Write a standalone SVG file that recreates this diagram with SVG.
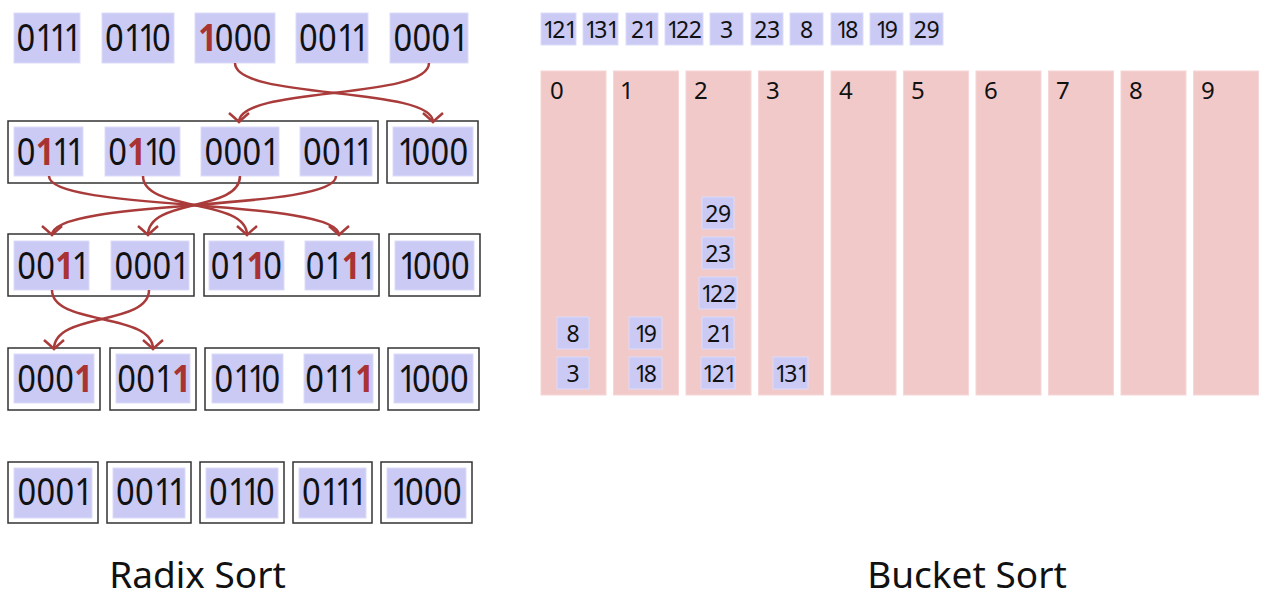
<svg xmlns="http://www.w3.org/2000/svg" width="1266" height="602" viewBox="0 0 1266 602">
<style>
.b{fill:#CACAF5;stroke:#DCDCF9;stroke-width:1}
.f{fill:none;stroke:#333;stroke-width:1.5}
.k{fill:#F2C9C9;stroke:#F6D6D6;stroke-width:1}
.d{font-family:"Noto Sans","Open Sans","DejaVu Sans",sans-serif;font-size:38px;fill:#111}
.s{font-family:"Noto Sans","Open Sans","DejaVu Sans",sans-serif;font-size:23px;fill:#111}
.l{font-family:"Noto Sans","Open Sans","DejaVu Sans",sans-serif;font-size:24px;fill:#111}
.r{fill:#A93333;font-weight:bold}
.t{font-family:"Noto Sans","Open Sans","DejaVu Sans",sans-serif;font-size:37px;fill:#111;text-anchor:middle}
.a{fill:none;stroke:#A93B3B;stroke-width:2.5;marker-end:url(#ah)}
.m{text-anchor:middle}
</style>
<defs>
<marker id="ah" markerUnits="userSpaceOnUse" orient="auto" markerWidth="24" markerHeight="26" viewBox="-12 -13 24 26" refX="0" refY="0" overflow="visible">
<path d="M-9,-10 Q-3,-3 0,0 Q-3,3 -9,10" fill="none" stroke="#A93B3B" stroke-width="2.5"/>
</marker>
</defs>

<!-- Radix sort: row 1 -->
<g id="r1n1"><rect class="b" x="14" y="13" width="66" height="50"/><text class="d" transform="translate(16.5,51) scale(0.86,1)" x="0 22.09 38.37 54.65">0111</text></g>
<g id="r1n2"><rect class="b" x="102" y="13" width="72" height="50"/><text class="d" transform="translate(105,51) scale(0.86,1)" x="0 22.09 38.37 54.65">0110</text></g>
<g id="r1n3"><rect class="b" x="195" y="13" width="80" height="50"/><text class="d" transform="translate(198.25,51) scale(0.86,1)" x="0 19.19 41.28 63.37"><tspan class="r">1</tspan>000</text></g>
<g id="r1n4"><rect class="b" x="296" y="13" width="72" height="50"/><text class="d" transform="translate(299,51) scale(0.86,1)" x="0 22.09 44.18 60.46">0011</text></g>
<g id="r1n5"><rect class="b" x="390" y="13" width="78" height="50"/><text class="d" transform="translate(393.5,51) scale(0.86,1)" x="0 22.09 44.18 66.27">0001</text></g>

<!-- row 2 -->
<g id="r2f1"><rect class="f" x="8" y="121" width="370" height="62"/></g>
<g id="r2f2"><rect class="f" x="387" y="121" width="91" height="62"/></g>
<g id="r2n1"><rect class="b" x="14" y="127" width="69" height="49"/><text class="d" transform="translate(16.75,165) scale(0.86,1)" x="0 22.09 41.28 57.56">0<tspan class="r">1</tspan>11</text></g>
<g id="r2n2"><rect class="b" x="105" y="127" width="75" height="49"/><text class="d" transform="translate(108.25,165) scale(0.86,1)" x="0 22.09 41.28 57.56">0<tspan class="r">1</tspan>10</text></g>
<g id="r2n3"><rect class="b" x="201" y="127" width="78" height="49"/><text class="d" transform="translate(204.5,165) scale(0.86,1)" x="0 22.09 44.18 66.27">0001</text></g>
<g id="r2n4"><rect class="b" x="300" y="127" width="72" height="49"/><text class="d" transform="translate(303,165) scale(0.86,1)" x="0 22.09 44.18 60.46">0011</text></g>
<g id="r2n5"><rect class="b" x="393" y="127" width="80" height="49"/><text class="d" transform="translate(397.5,165) scale(0.86,1)" x="0 16.28 38.37 60.46">1000</text></g>

<!-- row 3 -->
<g id="r3f1"><rect class="f" x="8" y="234" width="186" height="62"/></g>
<g id="r3f2"><rect class="f" x="204" y="234" width="175" height="62"/></g>
<g id="r3f3"><rect class="f" x="389" y="234" width="91" height="62"/></g>
<g id="r3n1"><rect class="b" x="14" y="241" width="75" height="49"/><text class="d" transform="translate(17.25,279) scale(0.86,1)" x="0 22.09 44.18 63.37">00<tspan class="r">1</tspan>1</text></g>
<g id="r3n2"><rect class="b" x="111" y="241" width="78" height="49"/><text class="d" transform="translate(114.5,279) scale(0.86,1)" x="0 22.09 44.18 66.27">0001</text></g>
<g id="r3n3"><rect class="b" x="209" y="241" width="75" height="49"/><text class="d" transform="translate(210.8,279) scale(0.86,1)" x="0 22.09 41.69 60.88">01<tspan class="r">1</tspan>0</text></g>
<g id="r3n4"><rect class="b" x="305" y="241" width="68" height="49"/><text class="d" transform="translate(305.8,279) scale(0.86,1)" x="0 22.09 41.69 60.88">01<tspan class="r">1</tspan>1</text></g>
<g id="r3n5"><rect class="b" x="395" y="241" width="79" height="49"/><text class="d" transform="translate(399,279) scale(0.86,1)" x="0 16.28 38.37 60.46">1000</text></g>

<!-- row 4 -->
<g id="r4f1"><rect class="f" x="8" y="348" width="92" height="62"/></g>
<g id="r4f2"><rect class="f" x="110" y="348" width="86" height="62"/></g>
<g id="r4f3"><rect class="f" x="205" y="348" width="174" height="62"/></g>
<g id="r4f4"><rect class="f" x="388" y="348" width="91" height="62"/></g>
<g id="r4n1"><rect class="b" x="14" y="354" width="80" height="49"/><text class="d" transform="translate(17.25,392) scale(0.86,1)" x="0 22.09 44.18 66.27">000<tspan class="r">1</tspan></text></g>
<g id="r4n2"><rect class="b" x="116" y="354" width="74" height="49"/><text class="d" transform="translate(117.3,392) scale(0.86,1)" x="0 22.09 44.18 63.78">001<tspan class="r">1</tspan></text></g>
<g id="r4n3"><rect class="b" x="212" y="354" width="71" height="49"/><text class="d" transform="translate(214.5,392) scale(0.86,1)" x="0 22.09 38.37 54.65">0110</text></g>
<g id="r4n4"><rect class="b" x="304" y="354" width="69" height="49"/><text class="d" transform="translate(305.3,392) scale(0.86,1)" x="0 22.09 38.37 57.97">011<tspan class="r">1</tspan></text></g>
<g id="r4n5"><rect class="b" x="394" y="354" width="79" height="49"/><text class="d" transform="translate(398,392) scale(0.86,1)" x="0 16.28 38.37 60.46">1000</text></g>

<!-- row 5 -->
<g id="r5n1"><rect class="f" x="8" y="462" width="90" height="61"/><rect class="b" x="14" y="468" width="78" height="50"/><text class="d" transform="translate(17.5,505) scale(0.86,1)" x="0 22.09 44.18 66.27">0001</text></g>
<g id="r5n2"><rect class="f" x="107" y="462" width="84" height="61"/><rect class="b" x="113" y="468" width="72" height="50"/><text class="d" transform="translate(116,505) scale(0.86,1)" x="0 22.09 44.18 60.46">0011</text></g>
<g id="r5n3"><rect class="f" x="200" y="462" width="84" height="61"/><rect class="b" x="206" y="468" width="72" height="50"/><text class="d" transform="translate(209,505) scale(0.86,1)" x="0 22.09 38.37 54.65">0110</text></g>
<g id="r5n4"><rect class="f" x="293" y="462" width="79" height="61"/><rect class="b" x="299" y="468" width="67" height="50"/><text class="d" transform="translate(302,505) scale(0.86,1)" x="0 22.09 38.37 54.65">0111</text></g>
<g id="r5n5"><rect class="f" x="381" y="462" width="91" height="61"/><rect class="b" x="387" y="468" width="79" height="50"/><text class="d" transform="translate(391,505) scale(0.86,1)" x="0 16.28 38.37 60.46">1000</text></g>

<g id="radix-title"><text class="t" x="197.5" y="588">Radix Sort</text></g>

<!-- Bucket sort: input row -->
<g id="in1"><rect class="b" x="541" y="13" width="35" height="32"/><text class="s" x="542.85 552.15 564.85" y="38">121</text></g>
<g id="in2"><rect class="b" x="583" y="13" width="35" height="32"/><text class="s" x="584.85 594.15 606.85" y="38">131</text></g>
<g id="in3"><rect class="b" x="626" y="13" width="32" height="32"/><text class="s" x="631 643.7" y="38">21</text></g>
<g id="in4"><rect class="b" x="665" y="13" width="38" height="32"/><text class="s" x="666.65 675.95 688.65" y="38">122</text></g>
<g id="in5"><rect class="b" x="710" y="13" width="33" height="32"/><text class="s m" x="726.5" y="38">3</text></g>
<g id="in6"><rect class="b" x="751" y="13" width="32" height="32"/><text class="s" x="754.3 767" y="38">23</text></g>
<g id="in7"><rect class="b" x="790" y="13" width="33" height="32"/><text class="s m" x="806.5" y="38">8</text></g>
<g id="in8"><rect class="b" x="831" y="13" width="32" height="32"/><text class="s" x="836 845.3" y="38">18</text></g>
<g id="in9"><rect class="b" x="870" y="13" width="33" height="32"/><text class="s" x="875.5 884.8" y="38">19</text></g>
<g id="in10"><rect class="b" x="910" y="13" width="33" height="32"/><text class="s" x="913.8 926.5" y="38">29</text></g>

<!-- buckets -->
<g id="bucket0"><rect class="k" x="541" y="71" width="65" height="324"/><text class="l" x="550" y="99">0</text>
<rect class="b" x="557" y="317" width="32" height="32"/><text class="s m" x="573" y="342">8</text>
<rect class="b" x="557" y="357" width="32" height="32"/><text class="s m" x="573" y="382">3</text></g>
<g id="bucket1"><rect class="k" x="613.5" y="71" width="65" height="324"/><text class="l" x="620" y="99">1</text>
<rect class="b" x="629" y="317" width="33" height="32"/><text class="s" x="634.5 643.8" y="342">19</text>
<rect class="b" x="629" y="357" width="33" height="32"/><text class="s" x="634.5 643.8" y="382">18</text></g>
<g id="bucket2"><rect class="k" x="686" y="71" width="65" height="324"/><text class="l" x="694" y="99">2</text>
<rect class="b" x="702" y="197" width="32" height="32"/><text class="s" x="705.3 718" y="222">29</text>
<rect class="b" x="702" y="237" width="32" height="32"/><text class="s" x="705.3 718" y="262">23</text>
<rect class="b" x="699" y="277" width="38" height="32"/><text class="s" x="700.65 709.95 722.65" y="302">122</text>
<rect class="b" x="702" y="317" width="32" height="32"/><text class="s" x="707 719.7" y="342">21</text>
<rect class="b" x="701" y="357" width="34" height="32"/><text class="s" x="702.35 711.65 724.35" y="382">121</text></g>
<g id="bucket3"><rect class="k" x="758.5" y="71" width="65" height="324"/><text class="l" x="766" y="99">3</text>
<rect class="b" x="773" y="357" width="35" height="32"/><text class="s" x="774.85 784.15 796.85" y="382">131</text></g>
<g id="bucket4"><rect class="k" x="831" y="71" width="65" height="324"/><text class="l" x="839" y="99">4</text></g>
<g id="bucket5"><rect class="k" x="903.5" y="71" width="65" height="324"/><text class="l" x="911" y="99">5</text></g>
<g id="bucket6"><rect class="k" x="976" y="71" width="65" height="324"/><text class="l" x="984" y="99">6</text></g>
<g id="bucket7"><rect class="k" x="1048.5" y="71" width="65" height="324"/><text class="l" x="1056" y="99">7</text></g>
<g id="bucket8"><rect class="k" x="1121" y="71" width="65" height="324"/><text class="l" x="1129" y="99">8</text></g>
<g id="bucket9"><rect class="k" x="1193.5" y="71" width="65" height="324"/><text class="l" x="1201" y="99">9</text></g>

<g id="bucket-title"><text class="t" x="967" y="588">Bucket Sort</text></g>

<!-- connectors -->
<g id="connectors">
<path class="a" d="M235,63 C235,100 433,86 433,122"/>
<path class="a" d="M429,63 C429,100 239,86 239,122"/>
<path class="a" d="M49,176 C49,212 339,198 339,235"/>
<path class="a" d="M143,176 C143,212 247,198 247,235"/>
<path class="a" d="M240,176 C240,212 148,198 148,235"/>
<path class="a" d="M336,176 C336,212 52,198 52,235"/>
<path class="a" d="M52,290 C52,326 153,312 153,349"/>
<path class="a" d="M149,290 C149,326 54,312 54,349"/>
</g>
</svg>
